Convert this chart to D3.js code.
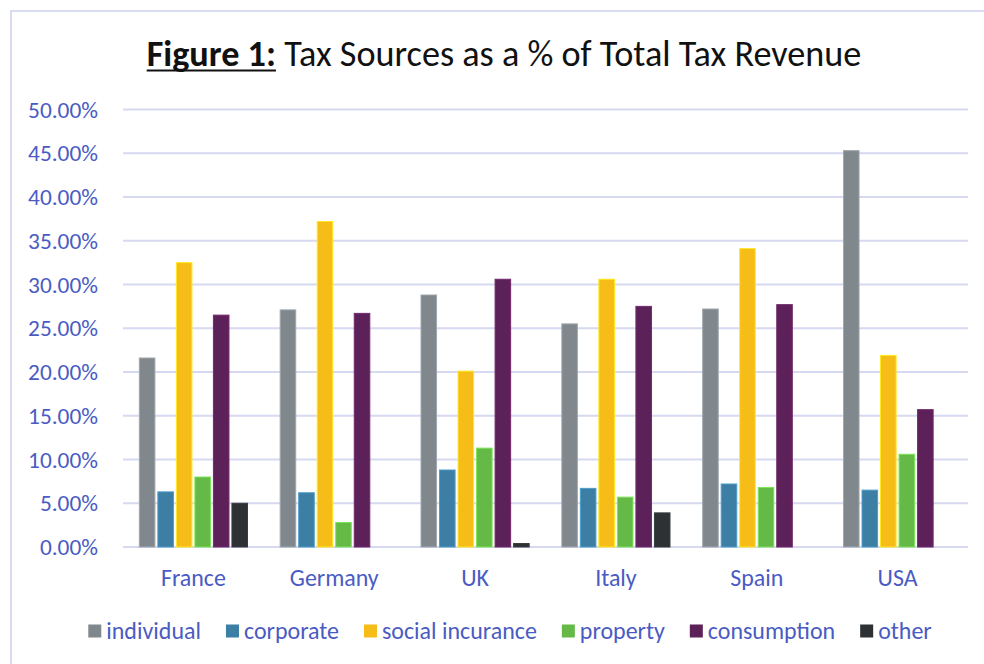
<!DOCTYPE html>
<html>
<head>
<meta charset="utf-8">
<script src="https://cdn.jsdelivr.net/npm/d3@7"></script>
<style>
  html, body { margin: 0; padding: 0; background: #fff; }
  svg { display: block; }
</style>
</head>
<body>
<svg id="chart"></svg>
<script>
// ---- data ----
const countries = ['France', 'Germany', 'UK', 'Italy', 'Spain', 'USA'];
const series    = ['individual', 'corporate', 'social incurance', 'property', 'consumption', 'other'];

const individual  = [21.6, 27.1, 28.8, 25.5, 27.2, 45.3];
const corporate   = [6.3, 6.2, 8.8, 6.7, 7.2, 6.5];
const socialIns   = [32.5, 37.2, 20.1, 30.6, 34.1, 21.9];
const property    = [8.0, 2.8, 11.3, 5.7, 6.8, 10.6];
const consumption = [26.5, 26.7, 30.6, 27.5, 27.7, 15.7];
const other       = [5.0, 0, 0.4, 3.9, 0, 0];

const yTicks = [0, 5, 10, 15, 20, 25, 30, 35, 40, 45, 50];

const seriesValues = [individual, corporate, socialIns, property, consumption, other];
const colors = ['#80888d', '#3d7ea4', '#f6bc18', '#64b947', '#5d2159', '#2d3134'];

// ---- layout ----
const W = 984, H = 664;
const FONT = "Carlito, Calibri, 'Open Sans', sans-serif";
const TEXT_BLUE = '#4a5bc3';
const margin = { left: 123, right: 16, top: 109.5, bottom: 117 };

const svg = d3.select('#chart').attr('width', W).attr('height', H);

// outer frame: only the top and left edges fall inside the picture
svg.append('path')
  .attr('d', `M11,${H} V11 H${W}`)
  .attr('fill', 'none')
  .attr('stroke', '#d9dbf3').attr('stroke-width', 2);

// shrink a text node's font until it fits the width seen in the picture
function fitWidth(sel, target, size) {
  sel.attr('font-size', size);
  const w = sel.node().getComputedTextLength();
  if (w > 0) sel.attr('font-size', size * target / w);
}

// title
const title = svg.append('text')
  .attr('x', 504).attr('y', 66)
  .attr('text-anchor', 'middle')
  .attr('font-family', FONT)
  .attr('fill', '#111');
title.append('tspan')
  .attr('font-weight', 'bold')
  .text('Figure 1:');
title.append('tspan').text(' Tax Sources as a % of Total Tax Revenue');
fitWidth(title, 715, 32);

// underline under "Figure 1:"
const tb = title.select('tspan').node().getBBox();
svg.append('line')
  .attr('x1', tb.x).attr('x2', tb.x + tb.width)
  .attr('y1', 70.5).attr('y2', 70.5)
  .attr('stroke', '#111').attr('stroke-width', 2);

const x0 = d3.scaleBand()
  .domain(countries)
  .range([margin.left, W - margin.right])
  .paddingInner(0.19).paddingOuter(0.095);

const x1 = d3.scaleBand()
  .domain(series)
  .range([0, x0.bandwidth()])
  .padding(0.16);

const y = d3.scaleLinear()
  .domain([0, 50])
  .range([H - margin.bottom, margin.top]);

// gridlines
svg.append('g')
  .selectAll('line')
  .data(yTicks)
  .join('line')
  .attr('x1', margin.left).attr('x2', W - margin.right)
  .attr('y1', d => y(d)).attr('y2', d => y(d))
  .attr('stroke', '#d6d9f0').attr('stroke-width', 2);

// y tick labels
const yLab = svg.append('g')
  .selectAll('text')
  .data(yTicks)
  .join('text')
  .attr('x', 98).attr('y', d => y(d))
  .attr('dy', '0.35em')
  .attr('text-anchor', 'end')
  .attr('font-family', FONT)
  .attr('fill', TEXT_BLUE)
  .text(d => d.toFixed(2) + '%');
fitWidth(yLab.filter(d => d === 50), 70, 18);
yLab.attr('font-size', yLab.filter(d => d === 50).attr('font-size'));

// bars
const groups = svg.append('g')
  .selectAll('g')
  .data(countries)
  .join('g')
  .attr('transform', d => `translate(${x0(d)},0)`);

groups.selectAll('rect')
  .data((c, i) => series.map((s, j) => ({ s, j, v: seriesValues[j][i] })))
  .join('rect')
  .filter(d => d.v > 0)
  .attr('x', d => x1(d.s))
  .attr('y', d => y(d.v))
  .attr('width', x1.bandwidth())
  .attr('height', d => y(0) - y(d.v))
  .attr('fill', d => colors[d.j])
  .attr('stroke', d => d3.color(colors[d.j]).brighter(0.6))
  .attr('stroke-width', 1);

// x category labels
const xLab = svg.append('g')
  .selectAll('text')
  .data(countries)
  .join('text')
  .attr('x', d => x0(d) + x0.bandwidth() / 2)
  .attr('y', 578)
  .attr('dy', '0.35em')
  .attr('text-anchor', 'middle')
  .attr('font-family', FONT)
  .attr('fill', TEXT_BLUE)
  .text(d => d);
fitWidth(xLab.filter(d => d === 'Germany'), 89, 19);
xLab.attr('font-size', xLab.filter(d => d === 'Germany').attr('font-size'));

// legend
const legend = svg.append('g');
const items = legend.selectAll('g')
  .data(series)
  .join('g');
items.append('rect')
  .attr('width', 13).attr('height', 13)
  .attr('y', -6.5)
  .attr('fill', (d, i) => colors[i]);
const legText = items.append('text')
  .attr('x', 18).attr('dy', '0.35em')
  .attr('font-family', FONT)
  .attr('fill', TEXT_BLUE)
  .text(d => d);
fitWidth(legText.filter(d => d === 'social incurance'), 155, 20);
legText.attr('font-size', legText.filter(d => d === 'social incurance').attr('font-size'));

let lx = 0;
const gap = 25;
items.each(function () {
  const w = 18 + d3.select(this).select('text').node().getComputedTextLength();
  d3.select(this).attr('transform', `translate(${lx},0)`);
  lx += w + gap;
});
lx -= gap;
legend.attr('transform', `translate(${510 - lx / 2},631)`);
</script>
</body>
</html>
